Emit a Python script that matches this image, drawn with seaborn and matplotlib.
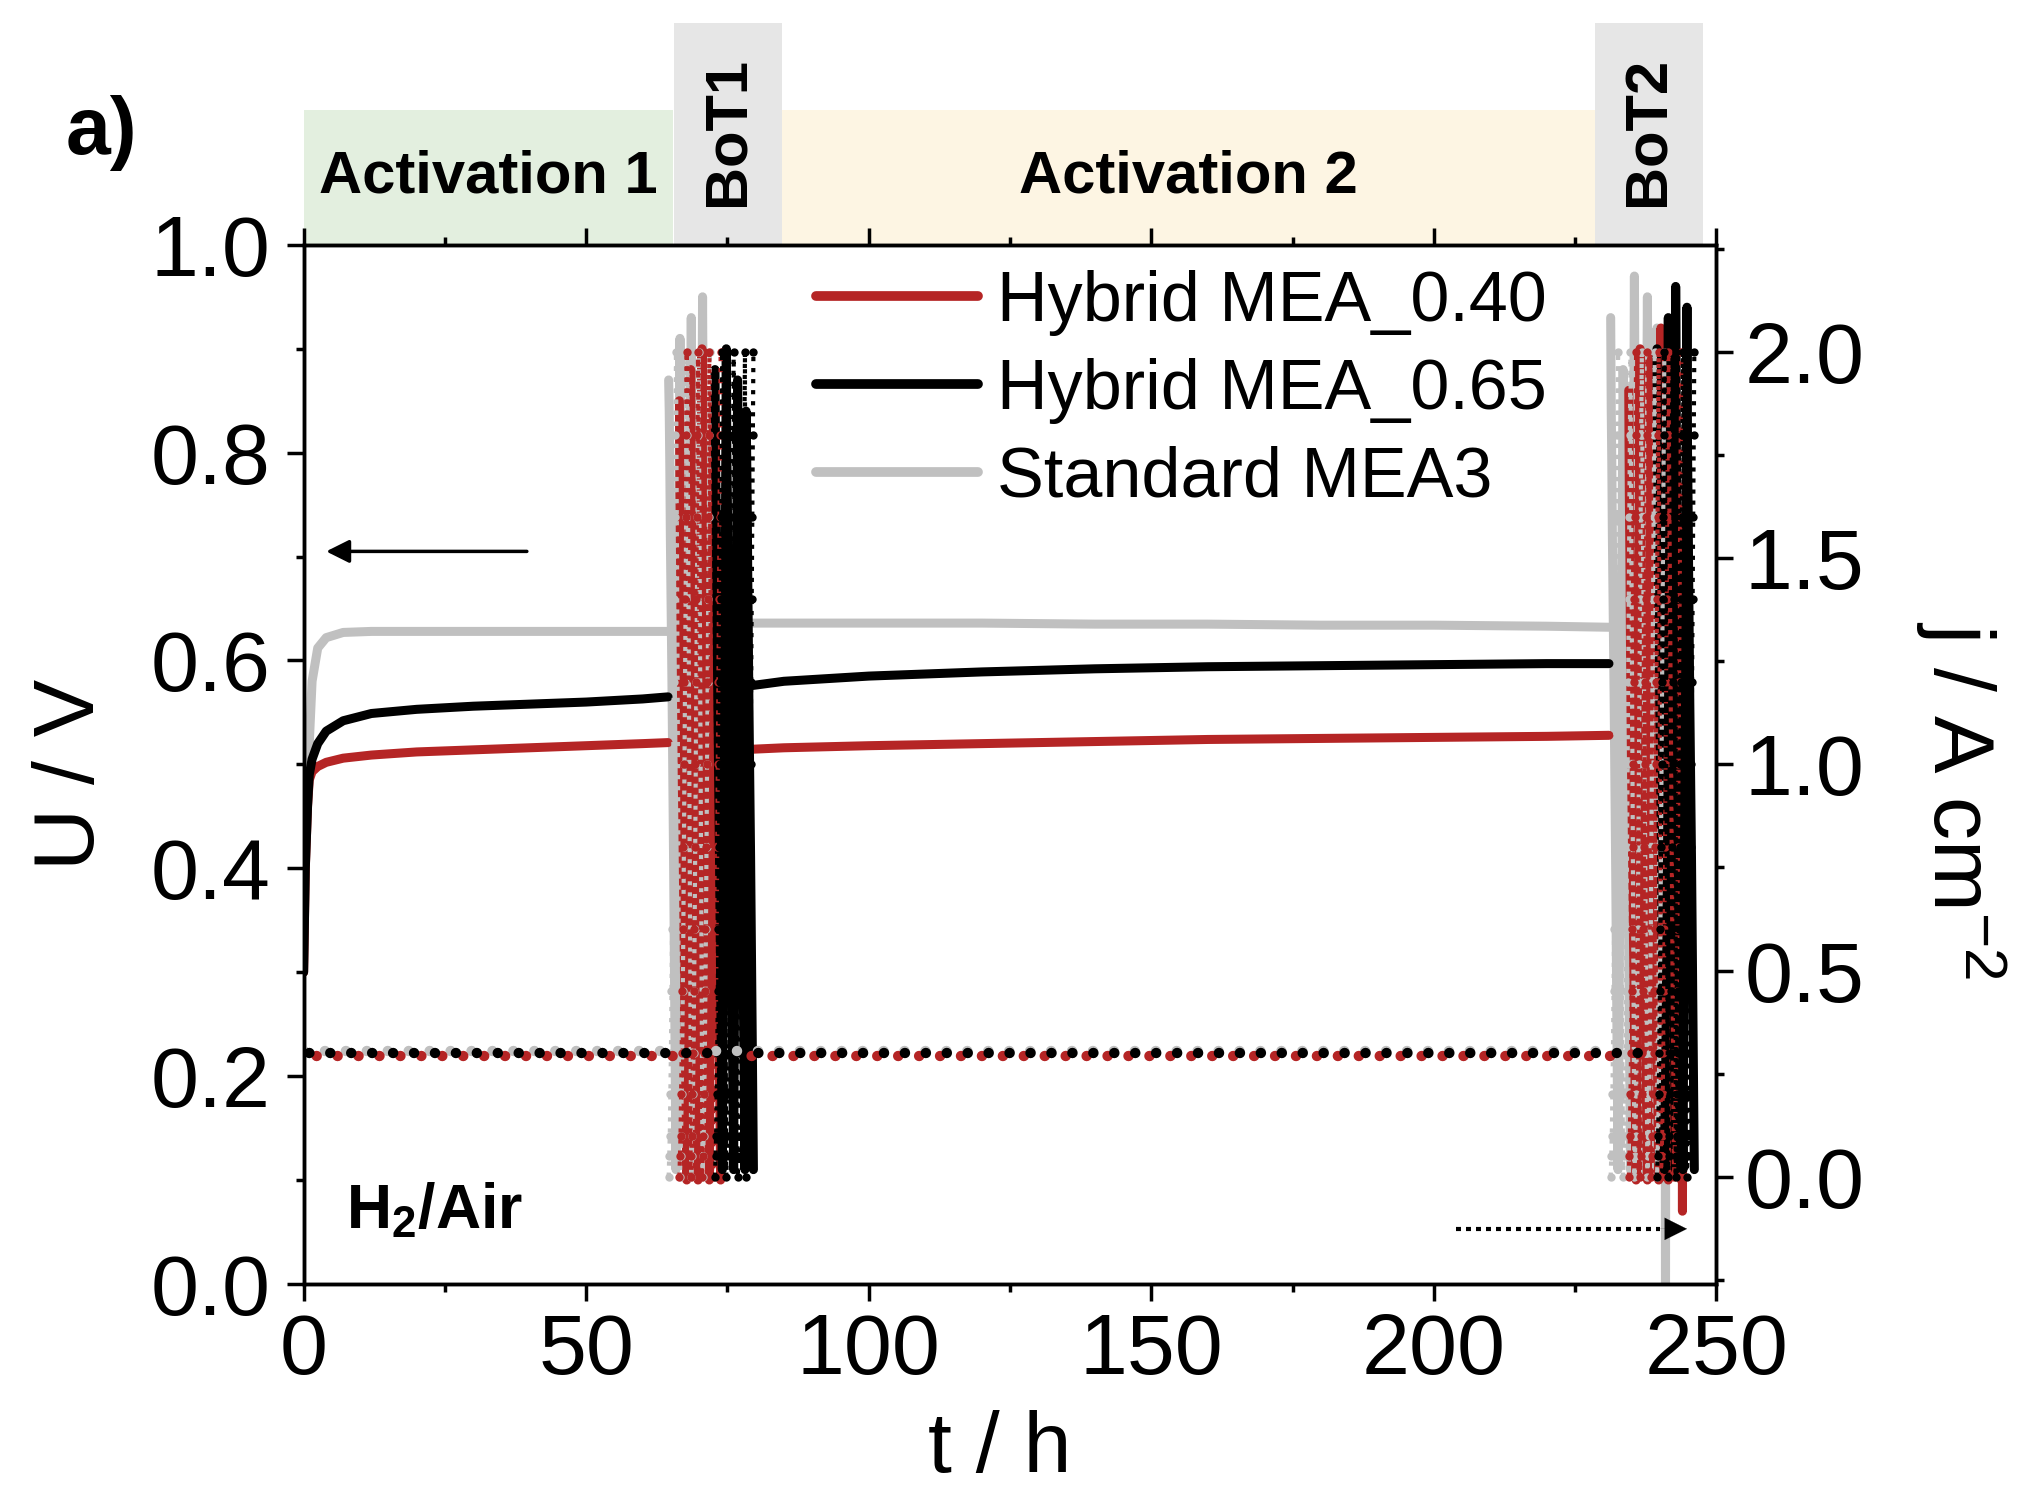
import matplotlib
matplotlib.use("Agg")
import matplotlib.pyplot as plt
from matplotlib.patches import Rectangle
from matplotlib.lines import Line2D
import pandas as pd
import seaborn as sns

sns.set_theme(style="ticks")
plt.rcParams["font.family"] = ["Liberation Sans", "DejaVu Sans"]
plt.rcParams["mathtext.fontset"] = "custom"
plt.rcParams["mathtext.rm"] = "Liberation Sans"
plt.rcParams["mathtext.bf"] = "Liberation Sans:bold"
plt.rcParams["mathtext.default"] = "regular"
for key in ["text.color", "axes.labelcolor", "xtick.color", "ytick.color", "axes.edgecolor"]:
    plt.rcParams[key] = "black"

# --- data ---
mea_names = ["Hybrid MEA_0.40", "Hybrid MEA_0.65", "Standard MEA3"]
mea_colors = ["#b52525", "#000000", "#c0c0c0"]

# activation 1, cell voltage under constant load
t_act1 = [0, 0.3, 0.7, 1.0, 1.5, 2.5, 4, 7, 12, 20, 30, 40, 50, 60, 64.5]
U_act1_040 = [0.30, 0.40, 0.46, 0.485, 0.493, 0.498, 0.502, 0.506, 0.509, 0.512, 0.514, 0.516, 0.518, 0.520, 0.521]
U_act1_065 = [0.30, 0.40, 0.46, 0.490, 0.505, 0.520, 0.532, 0.542, 0.549, 0.553, 0.556, 0.558, 0.560, 0.563, 0.565]
U_act1_std = [0.30, 0.42, 0.49, 0.520, 0.580, 0.612, 0.622, 0.627, 0.628, 0.628, 0.628, 0.628, 0.628, 0.628, 0.628]

# activation 2
t_act2_040 = [77, 85, 100, 120, 140, 160, 180, 200, 220, 231]
U_act2_040 = [0.514, 0.516, 0.518, 0.520, 0.522, 0.524, 0.525, 0.526, 0.527, 0.528]
t_act2_065 = [79.5, 85, 100, 120, 140, 160, 180, 200, 220, 231]
U_act2_065 = [0.576, 0.580, 0.585, 0.589, 0.592, 0.594, 0.595, 0.596, 0.597, 0.597]
t_act2_std = [73, 85, 100, 120, 140, 160, 180, 200, 220, 231]
U_act2_std = [0.636, 0.636, 0.636, 0.636, 0.635, 0.635, 0.634, 0.634, 0.633, 0.632]

# holding current density during activation (A cm-2)
hold_j_040 = 0.293
hold_j_065 = 0.300
hold_j_std = 0.305
hold_t_040 = [[0, 66.5], [77, 234]]
hold_t_065 = [[0, 72.8], [79.5, 239]]
hold_t_std = [[0, 64.6], [73, 231.3]]

# polarisation curve steps used in the BoT blocks
pol_j = [0.0, 0.05, 0.1, 0.2, 0.3, 0.45, 0.6, 0.8, 1.0, 1.2, 1.4, 1.6, 1.8, 2.0]
pol_dt = [0.0, 0.1, 0.2, 0.3, 0.4, 0.5, 0.6, 0.7, 0.8, 0.9, 1.0, 1.1, 1.2, 1.3]
pol_U_040 = [0.88, 0.76, 0.70, 0.62, 0.55, 0.49, 0.45, 0.40, 0.35, 0.30, 0.25, 0.20, 0.15, 0.10]
pol_U_065 = [0.90, 0.80, 0.75, 0.68, 0.62, 0.56, 0.51, 0.46, 0.41, 0.35, 0.29, 0.23, 0.17, 0.11]
pol_U_std = [0.95, 0.84, 0.79, 0.72, 0.67, 0.62, 0.57, 0.51, 0.45, 0.39, 0.32, 0.25, 0.18, 0.11]

# sweep start times and open-circuit voltages
bot1_start_040 = [66.5, 68.5, 70.5, 72.5]
bot1_ocv_040 = [0.85, 0.88, 0.90, 0.86]
bot1_start_065 = [72.8, 74.8, 76.8, 78.3]
bot1_ocv_065 = [0.88, 0.90, 0.87, 0.84]
bot1_start_std = [64.6, 66.6, 68.6, 70.6]
bot1_ocv_std = [0.87, 0.91, 0.93, 0.95]
bot2_start_040 = [234.5, 236.5, 238.5, 240.2, 242.5]
bot2_ocv_040 = [0.86, 0.90, 0.89, 0.92, 0.90]
bot2_start_065 = [239.5, 241.5, 242.8, 244.8]
bot2_ocv_065 = [0.90, 0.93, 0.96, 0.94]
bot2_start_std = [231.3, 233.5, 235.5, 237.8, 239.5]
bot2_ocv_std = [0.93, 0.88, 0.97, 0.95, 0.92]

# short voltage drops at the end of BoT2
dip_t_040 = [243.9, 244.0, 244.1]
dip_U_040 = [0.30, 0.07, 0.30]
dip_t_std = [240.9, 241.0, 241.1]
dip_U_std = [0.55, -0.05, 0.55]

# --- long tables ---
U_rows, j_rows = [], []


def add_curve(rows, name, seg, ts, vs):
    for t, v in zip(ts, vs):
        rows.append({"MEA": name, "seg": seg, "t": t, "val": v})


def add_bot(name, seg, starts, ocvs, pol_U):
    ts, us, js = [], [], []
    for s, ocv in zip(starts, ocvs):
        for k in range(len(pol_j)):
            ts.append(s + pol_dt[k])
            us.append(ocv if k == 0 else pol_U[k])
            js.append(pol_j[k])
    add_curve(U_rows, name, seg, ts, us)
    add_curve(j_rows, name, seg, ts, js)


series = [
    (mea_names[0], U_act1_040, t_act2_040, U_act2_040, pol_U_040,
     bot1_start_040, bot1_ocv_040, bot2_start_040, bot2_ocv_040, dip_t_040, dip_U_040),
    (mea_names[1], U_act1_065, t_act2_065, U_act2_065, pol_U_065,
     bot1_start_065, bot1_ocv_065, bot2_start_065, bot2_ocv_065, None, None),
    (mea_names[2], U_act1_std, t_act2_std, U_act2_std, pol_U_std,
     bot1_start_std, bot1_ocv_std, bot2_start_std, bot2_ocv_std, dip_t_std, dip_U_std),
]
for (name, ua1, ta2, ua2, polU, b1s, b1o, b2s, b2o, dt_, du_) in series:
    add_curve(U_rows, name, "act1", t_act1, ua1)
    add_curve(U_rows, name, "act2", ta2, ua2)
    add_bot(name, "bot1", b1s, b1o, polU)
    add_bot(name, "bot2", b2s, b2o, polU)
    if dt_ is not None:
        add_curve(U_rows, name, "dip", dt_, du_)

df_U = pd.DataFrame(U_rows)
df_j = pd.DataFrame(j_rows)

palette = dict(zip(mea_names, mea_colors))
hue_order = [mea_names[2], mea_names[0], mea_names[1]]

# --- figure ---
fig = plt.figure(figsize=(20.24, 14.94), dpi=100)
ax = fig.add_axes([0.150, 0.1406, 0.698, 0.6955])
ax2 = ax.twinx()

sns.lineplot(data=df_U, x="t", y="val", hue="MEA", units="seg", estimator=None,
             sort=False, palette=palette, hue_order=hue_order, ax=ax,
             lw=6.5, legend=False)
sns.lineplot(data=df_j, x="t", y="val", hue="MEA", units="seg", estimator=None,
             sort=False, palette=palette, hue_order=hue_order, ax=ax2,
             lw=3, linestyle=":", marker="o", markersize=6, markeredgewidth=0,
             legend=False)

# constant-current holds drawn as round dots, each MEA with its own phase
hold_sets = [
    (mea_names[2], hold_j_std, hold_t_std, 0.0),
    (mea_names[0], hold_j_040, hold_t_040, 0.8),
    (mea_names[1], hold_j_065, hold_t_065, 1.5),
]
for name, jv, spans, phase in hold_sets:
    rows = []
    for i, span in enumerate(spans):
        add_curve(rows, name, f"hold{i}", span, [jv, jv])
    sns.lineplot(data=pd.DataFrame(rows), x="t", y="val", units="seg", estimator=None,
                 sort=False, color=palette[name], ax=ax2, lw=7.5,
                 linestyle=(phase, (0.01, 2.0)), dash_capstyle="round", legend=False)

ax.set_xlim(0, 250)
ax.set_ylim(0, 1.0)
ax2.set_ylim(-0.26, 2.26)
ax.set_xticks(range(0, 251, 50))
ax.set_xticks(range(25, 250, 50), minor=True)
ax.set_yticks([0, 0.2, 0.4, 0.6, 0.8, 1.0])
ax.set_yticks([0.1, 0.3, 0.5, 0.7, 0.9], minor=True)
ax.set_yticklabels([f"{v:.1f}" for v in [0, 0.2, 0.4, 0.6, 0.8, 1.0]])
ax2.set_yticks([0, 0.5, 1.0, 1.5, 2.0])
ax2.set_yticks([-0.25, 0.25, 0.75, 1.25, 1.75, 2.25], minor=True)
ax2.set_yticklabels([f"{v:.1f}" for v in [0, 0.5, 1.0, 1.5, 2.0]])

for a in (ax, ax2):
    for sp in a.spines.values():
        sp.set_linewidth(2.5)
        sp.set_color("black")
ax.tick_params(axis="both", which="major", direction="out", length=12, width=2.5,
               labelsize=62, color="black", labelcolor="black", top=True)
ax.tick_params(axis="both", which="minor", direction="out", length=6, width=2.5,
               color="black", top=True)
ax.tick_params(axis="y", which="major", pad=12)
ax.tick_params(axis="x", which="major", pad=8)
ax2.tick_params(axis="y", which="major", direction="out", length=12, width=2.5,
                labelsize=62, color="black", labelcolor="black", pad=8)
ax2.tick_params(axis="y", which="minor", direction="out", length=6, width=2.5,
                color="black")

ax.set_xlabel("t / h", fontsize=62, color="black")
ax.set_ylabel("U / V", fontsize=62, color="black")
ax2.set_ylabel("j / A cm$^{-2}$", fontsize=62, rotation=-90, color="black")
ax.xaxis.set_label_coords(0.493, -0.16)
ax.yaxis.set_label_coords(-0.164, 0.49)
ax2.yaxis.set_label_coords(1.173, 0.466)
ax2.yaxis.label.set_va("center")
ax.yaxis.label.set_va("center")
ax.xaxis.label.set_va("center")

# phase bands above the plot
bands = [
    (0, 65.4, 1.130, "#e3efdf", "Activation 1", 0),
    (65.6, 84.6, 1.214, "#e6e6e6", "BoT1", 90),
    (84.6, 228.6, 1.130, "#fdf5e3", "Activation 2", 0),
    (228.6, 247.7, 1.214, "#e6e6e6", "BoT2", 90),
]
trans = ax.get_xaxis_transform()
for x0, x1, top, col, label, rot in bands:
    ax.add_patch(Rectangle((x0, 1.0), x1 - x0, top - 1.0, transform=trans,
                           facecolor=col, edgecolor="none", clip_on=False, zorder=0))
    ty = 1.065 if rot == 0 else 1.109
    ax.text((x0 + x1) / 2, ty, label, transform=trans, rotation=rot,
            ha="center", va="center", fontsize=43, fontweight="bold", color="black")

fig.text(0.05, 0.911, "a)", fontsize=58, fontweight="bold", ha="center", va="center",
         color="black")
ax.text(0.03, 0.07, r"$\mathbf{H_2/Air}$", transform=ax.transAxes, fontsize=45,
        ha="left", va="center", color="black")

# axis-assignment arrows
ax.annotate("", xy=(3.5, 0.705), xytext=(40, 0.705),
            arrowprops=dict(arrowstyle="-|>", color="black", lw=2.5, mutation_scale=35))
ax.plot([204, 240], [0.053, 0.053], color="black", lw=3, linestyle=(0, (1.2, 1.2)))
ax.annotate("", xy=(245.3, 0.053), xytext=(239, 0.053),
            arrowprops=dict(arrowstyle="-|>", color="black", lw=0.1, mutation_scale=40))

handles = [Line2D([0], [0], color=c, lw=7) for c in mea_colors]
leg = ax2.legend(handles, mea_names, loc="upper left", bbox_to_anchor=(0.363, 0.976),
                 frameon=False, fontsize=50.5, handlelength=2.3, handletextpad=0.28,
                 labelspacing=0.31, borderpad=0, borderaxespad=0)
for txt in leg.get_texts():
    txt.set_color("black")

fig.savefig("out.png", dpi=100)
